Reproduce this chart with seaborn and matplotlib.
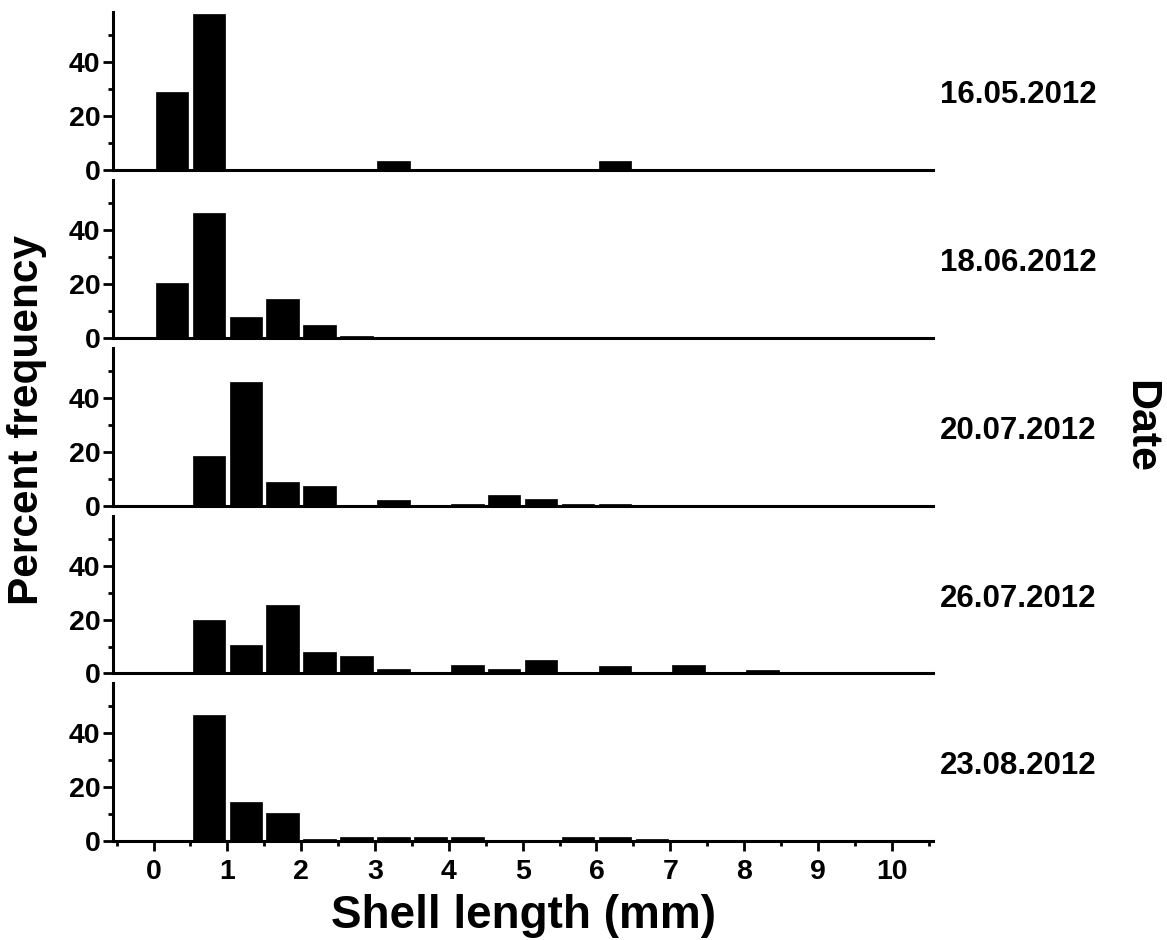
import numpy as np
import pandas as pd
import matplotlib
matplotlib.use("Agg")
import matplotlib.pyplot as plt
import seaborn as sns
from matplotlib.ticker import MultipleLocator

# datos: porcentaje por clase de talla (0.5 mm), de 0 a 10 mm
bin_edges = np.arange(0, 10.5, 0.5)
bin_centers = bin_edges[:-1] + 0.25

fechas = ["16.05.2012", "18.06.2012", "20.07.2012", "26.07.2012", "23.08.2012"]

pct_1605 = [29, 58, 0, 0, 0, 0, 3.3, 0, 0, 0, 0, 0, 3.3, 0, 0, 0, 0, 0, 0, 0]
pct_1806 = [20.2, 46.1, 7.9, 14.5, 4.6, 0.6, 0, 0, 0, 0, 0, 0, 0, 0, 0, 0, 0, 0, 0, 0]
pct_2007 = [0, 18.5, 45.9, 8.7, 7.3, 0, 2.2, 0, 0.8, 4.0, 2.3, 0.6, 0.6, 0, 0, 0, 0, 0, 0, 0]
pct_2607 = [0, 19.9, 10.5, 25.4, 8.1, 6.3, 1.8, 0, 3.2, 1.5, 4.9, 0, 2.6, 0, 3.2, 0, 1.3, 0, 0, 0]
pct_2308 = [0, 46.8, 14.4, 10.4, 0.9, 1.6, 1.6, 1.6, 1.6, 0.4, 0.4, 1.6, 1.6, 1.0, 0, 0, 0, 0.3, 0, 0]

series = [pct_1605, pct_1806, pct_2007, pct_2607, pct_2308]

sns.set_style("ticks")
plt.rcParams["font.family"] = ["Liberation Sans", "DejaVu Sans"]
plt.rcParams["font.weight"] = "bold"
for k in ["text.color", "axes.edgecolor", "axes.labelcolor", "xtick.color", "ytick.color"]:
    plt.rcParams[k] = "black"

fig, axes = plt.subplots(5, 1, figsize=(11.67, 9.4), dpi=100, sharex=True)
fig.subplots_adjust(left=0.0968, right=0.7995, top=0.987, bottom=0.105, hspace=0.063)

for i, (ax, fecha, vals) in enumerate(zip(axes, fechas, series)):
    df = pd.DataFrame({"talla": bin_centers, "pct": vals})
    sns.histplot(data=df, x="talla", weights="pct", binwidth=0.5, binrange=(0, 10),
                 ax=ax, color="black", alpha=1, shrink=0.88,
                 edgecolor="black", linewidth=0.5)
    ax.set_xlim(-0.55, 10.56)
    ax.set_ylim(0, 58.5)
    ax.set_ylabel("")
    ax.set_xlabel("")
    sns.despine(ax=ax)
    for s in ["left", "bottom"]:
        ax.spines[s].set_linewidth(2.2)
        ax.spines[s].set_color("black")
    ax.yaxis.set_major_locator(MultipleLocator(20))
    ax.yaxis.set_minor_locator(MultipleLocator(10))
    ax.tick_params(axis="y", which="major", length=7, width=2, pad=2, labelsize=20.5, colors="black")
    ax.tick_params(axis="y", which="minor", length=3.5, width=2, colors="black")
    ax.xaxis.set_major_locator(MultipleLocator(1))
    ax.xaxis.set_minor_locator(MultipleLocator(0.5))
    if i < 4:
        ax.tick_params(axis="x", which="both", length=0, labelbottom=False)
    else:
        ax.tick_params(axis="x", which="major", length=7, width=2, pad=6, labelsize=20.5, colors="black")
        ax.tick_params(axis="x", which="minor", length=3.5, width=2, colors="black")
    for lab in ax.get_yticklabels() + ax.get_xticklabels():
        lab.set_fontweight("bold")
    ax.text(1.104, 0.475, fecha, transform=ax.transAxes, ha="center", va="center",
            fontsize=22.5, fontweight="bold", color="black")

fig.text(0.449, 0.026, "Shell length (mm)", ha="center", va="center",
         fontsize=33, fontweight="bold", color="black")
fig.text(0.023, 0.553, "Percent frequency", ha="center", va="center",
         rotation=90, fontsize=30.5, fontweight="bold", color="black")
fig.text(0.977, 0.546, "Date", ha="center", va="center",
         rotation=270, fontsize=31, fontweight="bold", color="black")

fig.savefig("out.png", dpi=100)
